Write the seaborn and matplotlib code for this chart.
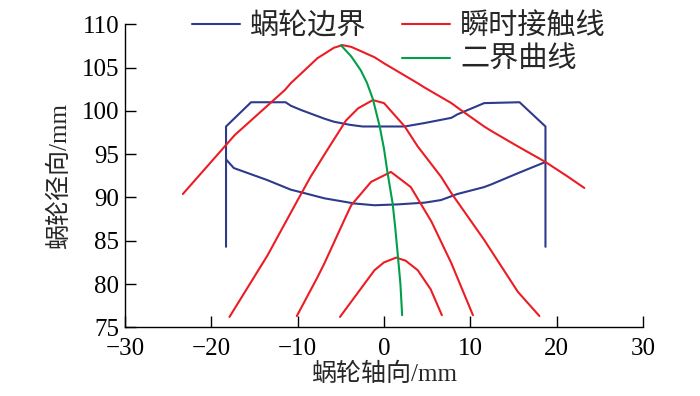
import seaborn as sns
import matplotlib.pyplot as plt
from matplotlib.lines import Line2D

sns.set_style("ticks")
plt.rcParams['font.family'] = ['Liberation Serif', 'Noto Sans CJK SC']
plt.rcParams['axes.unicode_minus'] = True

# worm wheel boundary (outer outline + lower arc)
blue_top_x = [-18.3, -18.3, -15.4, -11.4, -10.8, -9.6, -6.9, -5.8, -4.0, -2.5, 2.4, 4.7, 7.8, 8.5, 11.6, 15.7, 18.7, 18.7]
blue_top_y = [84.3, 98.2, 101.0, 101.0, 100.6, 100.1, 99.1, 98.75, 98.4, 98.2, 98.2, 98.6, 99.2, 99.6, 100.9, 101.0, 98.2, 84.3]
blue_low_x = [-18.3, -17.4, -13.5, -10.8, -9.6, -6.9, -3.4, -1.1, 1.6, 4.7, 6.6, 8.5, 11.6, 12.4, 15.5, 18.7]
blue_low_y = [94.4, 93.4, 92.0, 90.9, 90.6, 89.9, 89.3, 89.1, 89.2, 89.4, 89.7, 90.4, 91.2, 91.5, 92.8, 94.1]

# instantaneous contact lines
red1_x = [-23.3, -17.3, -11.5, -10.8, -7.7, -6.9, -5.8, -4.8, -3.8, -1.1, 0.0, 3.9, 4.7, 7.8, 8.9, 11.6, 12.4, 15.5, 18.7, 21.3, 23.2]
red1_y = [90.4, 97.2, 102.4, 103.2, 106.1, 106.6, 107.3, 107.6, 107.4, 106.2, 105.5, 103.2, 102.7, 100.9, 100.1, 98.2, 97.7, 95.9, 94.1, 92.4, 91.1]
red2_x = [-17.9, -13.5, -10.0, -8.5, -6.5, -4.4, -3.0, -1.3, 0.0, 2.4, 3.9, 6.6, 7.8, 11.6, 15.5, 18.0]
red2_y = [76.2, 83.3, 89.7, 92.4, 95.6, 98.9, 100.3, 101.25, 100.9, 98.2, 95.9, 92.4, 90.5, 85.1, 79.1, 76.3]
red3_x = [-10.1, -7.7, -6.9, -4.6, -3.8, -1.5, 0.8, 3.1, 5.5, 7.8, 10.3]
red3_y = [76.3, 80.8, 82.4, 87.4, 89.1, 91.8, 92.95, 91.2, 87.2, 82.4, 76.4]
red4_x = [-5.1, -3.1, -1.1, 0.0, 1.4, 2.5, 3.9, 5.4, 6.7]
red4_y = [76.2, 78.9, 81.6, 82.5, 83.05, 82.7, 81.6, 79.4, 76.4]

# second boundary curve
green_x = [-5.0, -3.8, -2.7, -2.0, -1.3, -0.5, 0.0, 0.4, 1.0, 1.3, 1.6, 1.9, 2.1]
green_y = [107.6, 106.3, 104.7, 103.3, 101.4, 98.2, 95.6, 92.9, 89.3, 86.5, 83.3, 80.0, 76.4]

blue = '#2E3A8C'
red = '#EC1C24'
green = '#00A04B'
lw = 1.5

fig = plt.figure(figsize=(7, 3.96), dpi=100)
ax = fig.add_axes([0.1786, 0.1735, 0.74, 0.765])

for xs, ys in [(blue_top_x, blue_top_y), (blue_low_x, blue_low_y)]:
    sns.lineplot(x=xs, y=ys, sort=False, estimator=None, color=blue, lw=lw, ax=ax)
for xs, ys in [(red1_x, red1_y), (red2_x, red2_y), (red3_x, red3_y), (red4_x, red4_y)]:
    sns.lineplot(x=xs, y=ys, sort=False, estimator=None, color=red, lw=lw, ax=ax)
sns.lineplot(x=green_x, y=green_y, sort=False, estimator=None, color=green, lw=lw, ax=ax)

ax.set_xlim(-30, 30)
ax.set_ylim(75, 110)
ax.set_xticks(range(-30, 31, 10))
ax.set_yticks(range(75, 111, 5))
sns.despine(ax=ax)
ax.tick_params(direction='in', length=8, width=1, labelsize=18, colors='black')
ax.tick_params(axis='x', pad=8)
ax.tick_params(axis='y', pad=4)
for s in ['left', 'bottom']:
    ax.spines[s].set_color('black')
    ax.spines[s].set_linewidth(1)
ax.set_xlabel('蜗轮轴向/mm', fontsize=18, labelpad=2)
ax.set_ylabel('蜗轮径向/mm', fontsize=18, labelpad=8)

handles = [Line2D([], [], color=blue, lw=lw), Line2D([], [], alpha=0),
           Line2D([], [], color=red, lw=lw), Line2D([], [], color=green, lw=lw)]
labels = ['蜗轮边界', '', '瞬时接触线', '二界曲线']
fig.legend(handles, labels, ncol=2, loc='upper left', bbox_to_anchor=(0.274, 0.966),
           frameon=False, fontsize=21, handlelength=1.65, handletextpad=0.35,
           columnspacing=1.2, labelspacing=0.22, borderpad=0, borderaxespad=0)

fig.savefig('out.png', dpi=100)
